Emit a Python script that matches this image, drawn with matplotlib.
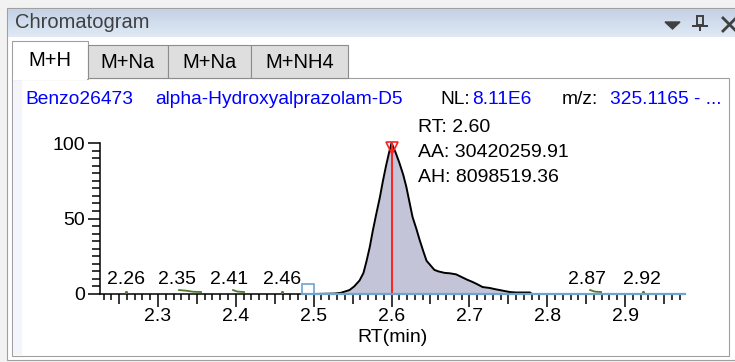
import numpy as np
import matplotlib.pyplot as plt
from matplotlib.patches import Rectangle, Polygon
from matplotlib.lines import Line2D

plt.rcParams['font.family'] = ['Liberation Sans', 'DejaVu Sans']

# main peak trace (RT in min, relative abundance %)
rt = [2.500, 2.527, 2.535, 2.546, 2.552, 2.559, 2.564, 2.568, 2.572, 2.576, 2.580,
      2.585, 2.589, 2.593, 2.597, 2.600, 2.605, 2.610, 2.615, 2.619, 2.623,
      2.627, 2.632, 2.636, 2.641, 2.645, 2.650, 2.655, 2.660, 2.668, 2.675,
      2.683, 2.691, 2.697, 2.704, 2.710, 2.717, 2.726, 2.733, 2.739, 2.745,
      2.752, 2.760, 2.778, 2.780]
inten = [0, 0.3, 0.8, 2.6, 5, 9, 14, 22, 31, 42, 52,
         64, 75, 85, 94, 100, 94, 87, 79, 71, 61,
         51, 43, 36, 28, 22, 19, 16, 15, 14, 13.7,
         13, 11, 9.5, 8, 6.5, 4.6, 4, 3.2, 2.6, 2,
         1.3, 1, 1, 0]

# small noise peaks
noise_rt = [[2.2589], [2.327, 2.336, 2.345, 2.3553], [2.3964, 2.402, 2.4105],
            [2.4593], [2.8551, 2.861, 2.8692], [2.9227]]
noise_int = [[1.5], [2.6, 2.2, 1.5, 1.3], [2.6, 1.6, 1.3], [1.5], [2.6, 1.6, 1.3], [1.5]]
peak_labels = ['2.26', '2.35', '2.41', '2.46', '2.87', '2.92']
label_rt = [2.2583, 2.3244, 2.3912, 2.4593, 2.8506, 2.9219]

apex_rt = 2.60
info = ['RT: 2.60', 'AA: 30420259.91', 'AH: 8098519.36']
tabs = ['M+H', 'M+Na', 'M+Na', 'M+NH4']

W, H = 735, 362
fig = plt.figure(figsize=(W / 100, H / 100), dpi=100, facecolor='#f2f2f2')


def fx(x):
    return x / W


def fy(y):
    return 1 - y / H


def rect(x0, y0, x1, y1, zorder=-5, **kw):
    r = Rectangle((fx(x0), fy(y1)), (x1 - x0) / W, (y1 - y0) / H,
                  transform=fig.transFigure, zorder=zorder, **kw)
    fig.add_artist(r)
    return r


# window frame
rect(7, 8, 736, 360, zorder=-10, facecolor='white', edgecolor='#a0a0a0', lw=0.8)

# title bar gradient
axt = fig.add_axes([fx(8), fy(37), (735 - 8) / W, (37 - 9) / H])
top = np.array([196, 210, 230]) / 255
bot = np.array([224, 233, 245]) / 255
g = np.linspace(0, 1, 30)[:, None, None]
grad = top * (1 - g) + bot * g
axt.imshow(np.repeat(grad, 2, axis=1), aspect='auto', extent=[0, 1, 0, 1])
axt.axis('off')
fig.text(fx(15), fy(23), 'Chromatogram', fontsize=14.5, color='#404040', va='center')

# title bar icons: dropdown, pin, close
fig.add_artist(Polygon([(fx(665), fy(22)), (fx(680), fy(22)), (fx(672.5), fy(29))],
                       closed=True, transform=fig.transFigure, color='#404040', zorder=2))
rect(697, 16, 703, 25, zorder=2, facecolor='none', edgecolor='#404040', lw=1.4)
rect(692, 25, 708, 26.5, zorder=2, facecolor='#404040', edgecolor='none')
rect(699.2, 26.5, 700.8, 31, zorder=2, facecolor='#404040', edgecolor='none')
for xs, ys in [((723, 736), (18, 31)), ((723, 736), (31, 18))]:
    fig.add_artist(Line2D([fx(v) for v in xs], [fy(v) for v in ys], lw=2,
                          color='#404040', transform=fig.transFigure, zorder=2))

# content panel
rect(12, 78, 729, 356, zorder=-9, facecolor='white', edgecolor='#a0a0a0', lw=0.8)
rect(13, 79, 22, 355, zorder=-8, facecolor='#f4f5fb', edgecolor='none')

# tabs
tab_x = [12, 88, 168, 251, 348]
for i, name in enumerate(tabs):
    x0, x1 = tab_x[i], tab_x[i + 1]
    if i == 0:
        rect(x0, 41, x1, 79, zorder=-7, facecolor='white', edgecolor='#a0a0a0', lw=0.8)
        rect(x0 + 0.8, 77, x1 - 0.8, 80, zorder=-6, facecolor='white', edgecolor='none')
        fig.text(fx((x0 + x1) / 2), fy(61), name, fontsize=14.5, ha='center', va='center')
    else:
        rect(x0, 45, x1, 78, zorder=-7, facecolor='#dedede', edgecolor='#8c8c8c', lw=0.8)
        fig.text(fx((x0 + x1) / 2), fy(63), name, fontsize=14.5, ha='center', va='center')

# header line
hdr = [(25, 'Benzo26473', 'blue'), (155, 'alpha-Hydroxyalprazolam-D5', 'blue'),
       (440, 'NL:', 'black'), (472, '8.11E6', 'blue'),
       (562, 'm/z:', 'black'), (610, '325.1165 - ...', 'blue')]
for x, s, c in hdr:
    fig.text(fx(x), fy(100), s, fontsize=13.8, color=c, va='center')

# plot
ax = fig.add_axes([fx(100), fy(294), (685 - 100) / W, (294 - 143) / H])
ax.set_facecolor('none')
ax.set_xlim(2.2255, 2.977)
ax.set_ylim(0, 100)

ax.fill_between(rt, inten, 0, color='#c4c4d8', lw=0, zorder=2)
ax.plot(rt, inten, color='black', lw=1.4, zorder=3, clip_on=False)
ax.plot([apex_rt, apex_rt], [0, 100], color='#ff2020', lw=1.4, zorder=4)
ax.plot(apex_rt, 97, marker='v', ms=9, mfc='none', mec='#ff2020', mew=1.2,
        zorder=5, clip_on=False)

for xs, ys in zip(noise_rt, noise_int):
    ax.plot(xs, ys, color='#4f7a30', lw=1.3, marker='.' if len(xs) == 1 else None,
            ms=2.5, zorder=3, clip_on=False)
for x, s in zip(label_rt, peak_labels):
    ax.text(x, 9.6, s, fontsize=14, ha='center', va='center')

# baseline and marker box
ax.plot([2.4855, 2.977], [0, 0], color='#6fa3d0', lw=1.6, zorder=6, clip_on=False)
ax.add_patch(Rectangle((2.4855, 0), 0.0154, 6.6, facecolor='none',
                       edgecolor='#6fa3d0', lw=1.2, zorder=6, clip_on=False))

for i, s in enumerate(info):
    ax.text(2.6334, 110 - 16.3 * i, s, fontsize=14, va='center', clip_on=False)

for s in ['top', 'right']:
    ax.spines[s].set_visible(False)
for s in ['left', 'bottom']:
    ax.spines[s].set_linewidth(1.1)

xt = np.round(np.arange(2.25, 2.96, 0.05), 2)
ax.set_xticks(xt)
ax.set_xticklabels([f'{v:.1f}' if round(v * 100) % 10 == 0 else '' for v in xt])
ax.set_xticks(np.round(np.arange(2.23, 2.975, 0.01), 2), minor=True)
ax.tick_params(axis='x', which='major', length=7, width=1.1, labelsize=14, pad=3)
ax.tick_params(axis='x', which='minor', length=4, width=1.1)
for v, tick in zip(xt, ax.xaxis.get_major_ticks()):
    if round(v * 100) % 10 == 0:
        tick.tick1line.set_markersize(9.5)

ax.set_yticks([0, 50, 100])
ax.set_yticks(np.arange(0, 101, 5), minor=True)
ax.tick_params(axis='y', which='major', length=9, width=1.1, labelsize=14, pad=2)
ax.tick_params(axis='y', which='minor', length=6, width=1.1)

ax.set_xlabel('RT(min)', fontsize=14, labelpad=3)

fig.savefig('out.png', dpi=100, facecolor=fig.get_facecolor())
